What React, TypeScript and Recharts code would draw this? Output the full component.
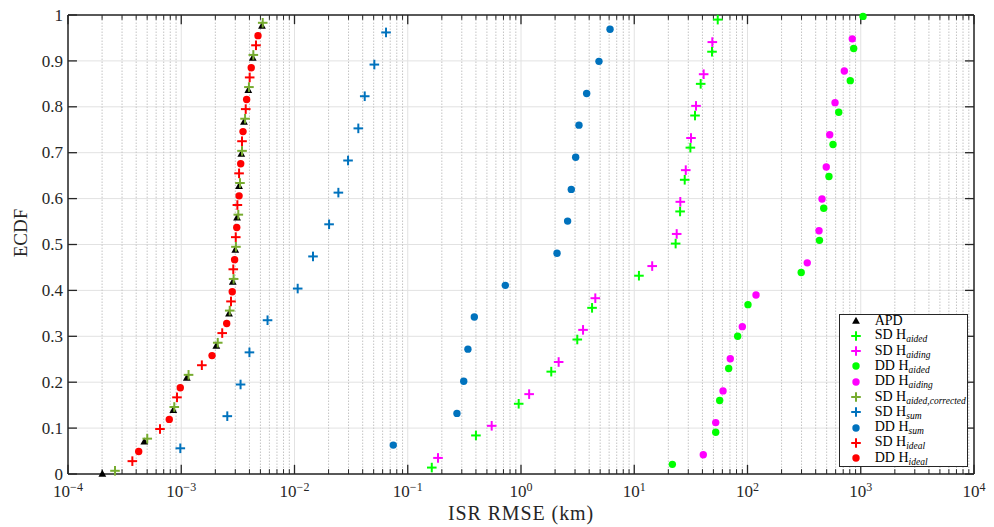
import React from 'react';
import { ScatterChart, Scatter, XAxis, YAxis, CartesianGrid, ReferenceLine, Legend } from 'recharts';

const FONT = '"Liberation Serif", "DejaVu Serif", serif';
const AXIS = '#262626';

// ---------- data (ISR RMSE in km, ECDF level) ----------
const apdX = [2.01e-4, 4.72e-4, 8.51e-4, 1.12e-3, 2.04e-3, 2.64e-3, 2.85e-3, 3.0e-3, 3.11e-3, 3.24e-3, 3.39e-3, 3.58e-3, 3.91e-3, 4.28e-3, 5.16e-3];
const apdY = [0, 0.07, 0.139, 0.209, 0.279, 0.349, 0.418, 0.488, 0.558, 0.627, 0.697, 0.767, 0.836, 0.906, 0.976];

const sdAidedX = [0.163, 0.4, 0.954, 1.85, 3.14, 4.24, 11.0, 23.2, 25.4, 27.9, 31.3, 34.4, 38.6, 48.6, 54.6];
const sdAidedY = [0.014, 0.084, 0.153, 0.223, 0.293, 0.362, 0.432, 0.502, 0.572, 0.641, 0.711, 0.781, 0.85, 0.92, 0.99];

const sdAidingX = [0.185, 0.551, 1.18, 2.15, 3.53, 4.53, 14.4, 23.7, 25.5, 28.5, 31.7, 35.1, 41.0, 48.9];
const sdAidingY = [0.035, 0.105, 0.174, 0.244, 0.314, 0.383, 0.453, 0.523, 0.593, 0.662, 0.732, 0.802, 0.871, 0.941];

const ddAidedX = [21.7, 52.4, 56.8, 68.2, 81.9, 101, 298, 432, 471, 524, 569, 639, 808, 866, 1047];
const ddAidedY = [0.021, 0.091, 0.16, 0.23, 0.3, 0.369, 0.439, 0.509, 0.579, 0.648, 0.718, 0.788, 0.857, 0.927, 0.997];

const ddAidingX = [40.7, 52.4, 60.8, 70.5, 90.0, 118.9, 337, 428, 455, 496, 532, 593, 716, 842];
const ddAidingY = [0.042, 0.112, 0.181, 0.251, 0.321, 0.39, 0.46, 0.53, 0.599, 0.669, 0.739, 0.809, 0.878, 0.948];

const sdAidedCorrX = [2.6e-4, 5.01e-4, 8.68e-4, 1.16e-3, 2.1e-3, 2.68e-3, 2.9e-3, 3.04e-3, 3.19e-3, 3.3e-3, 3.44e-3, 3.66e-3, 3.96e-3, 4.33e-3, 5.24e-3];
const sdAidedCorrY = [0.007, 0.077, 0.146, 0.216, 0.286, 0.356, 0.425, 0.495, 0.565, 0.634, 0.704, 0.774, 0.843, 0.913, 0.983];

const sdSumX = [9.81e-4, 2.55e-3, 3.34e-3, 4.0e-3, 5.78e-3, 1.067e-2, 1.457e-2, 2.02e-2, 2.44e-2, 2.97e-2, 3.66e-2, 4.17e-2, 5.07e-2, 6.43e-2];
const sdSumY = [0.056, 0.126, 0.195, 0.265, 0.335, 0.404, 0.474, 0.544, 0.613, 0.683, 0.753, 0.823, 0.892, 0.962];

const ddSumX = [7.45e-2, 0.272, 0.312, 0.34, 0.387, 0.727, 2.08, 2.58, 2.78, 3.04, 3.25, 3.8, 4.88, 6.11];
const ddSumY = [0.063, 0.132, 0.202, 0.272, 0.342, 0.411, 0.481, 0.551, 0.62, 0.69, 0.76, 0.829, 0.899, 0.969];

const sdIdealX = [3.7e-4, 6.49e-4, 9.17e-4, 1.52e-3, 2.3e-3, 2.75e-3, 2.88e-3, 3.03e-3, 3.13e-3, 3.24e-3, 3.44e-3, 3.71e-3, 4.02e-3, 4.57e-3];
const sdIdealY = [0.028, 0.098, 0.167, 0.237, 0.307, 0.376, 0.446, 0.516, 0.586, 0.655, 0.725, 0.795, 0.864, 0.934];

const ddIdealX = [4.21e-4, 7.84e-4, 9.81e-4, 1.87e-3, 2.52e-3, 2.82e-3, 2.96e-3, 3.09e-3, 3.24e-3, 3.35e-3, 3.51e-3, 3.78e-3, 4.15e-3, 4.76e-3];
const ddIdealY = [0.049, 0.119, 0.188, 0.258, 0.328, 0.397, 0.467, 0.537, 0.606, 0.676, 0.746, 0.816, 0.885, 0.955];

const xTicks = [1e-4, 1e-3, 1e-2, 1e-1, 1, 10, 100, 1000, 10000];
const xTickExp = ['\u22124', '\u22123', '\u22122', '\u22121', '0', '1', '2', '3', '4'];
const yTicks = [0, 0.1, 0.2, 0.3, 0.4, 0.5, 0.6, 0.7, 0.8, 0.9, 1];
const yTickLabels = ['0', '0.1', '0.2', '0.3', '0.4', '0.5', '0.6', '0.7', '0.8', '0.9', '1'];

// minor log ticks (2..9 x 10^e)
const minorTicks: number[] = [];
for (let e = -4; e < 4; e++) for (let m = 2; m <= 9; m++) minorTicks.push(m * Math.pow(10, e));

type Kind = 'tri' | 'plus' | 'dot';
const series: { label: string; sub?: string; xs: number[]; ys: number[]; color: string; kind: Kind }[] = [
  { label: 'APD', xs: apdX, ys: apdY, color: '#000000', kind: 'tri' },
  { label: 'SD H', sub: 'aided', xs: sdAidedX, ys: sdAidedY, color: '#00ff00', kind: 'plus' },
  { label: 'SD H', sub: 'aiding', xs: sdAidingX, ys: sdAidingY, color: '#ff00ff', kind: 'plus' },
  { label: 'DD H', sub: 'aided', xs: ddAidedX, ys: ddAidedY, color: '#00ff00', kind: 'dot' },
  { label: 'DD H', sub: 'aiding', xs: ddAidingX, ys: ddAidingY, color: '#ff00ff', kind: 'dot' },
  { label: 'SD H', sub: 'aided,corrected', xs: sdAidedCorrX, ys: sdAidedCorrY, color: '#77ac30', kind: 'plus' },
  { label: 'SD H', sub: 'sum', xs: sdSumX, ys: sdSumY, color: '#0072bd', kind: 'plus' },
  { label: 'DD H', sub: 'sum', xs: ddSumX, ys: ddSumY, color: '#0072bd', kind: 'dot' },
  { label: 'SD H', sub: 'ideal', xs: sdIdealX, ys: sdIdealY, color: '#ff0000', kind: 'plus' },
  { label: 'DD H', sub: 'ideal', xs: ddIdealX, ys: ddIdealY, color: '#ff0000', kind: 'dot' },
];

function marker(kind: Kind, cx: number, cy: number, color: string) {
  if (kind === 'plus') {
    return (
      <g>
        <line x1={cx - 4.8} y1={cy} x2={cx + 4.8} y2={cy} stroke={color} strokeWidth={2} />
        <line x1={cx} y1={cy - 4.8} x2={cx} y2={cy + 4.8} stroke={color} strokeWidth={2} />
      </g>
    );
  }
  if (kind === 'dot') return <circle cx={cx} cy={cy} r={3.7} fill={color} />;
  return <polygon points={`${cx},${cy - 4.3} ${cx - 3.9},${cy + 2.7} ${cx + 3.9},${cy + 2.7}`} fill={color} />;
}

const LegendBox = () => (
  <div
    style={{
      position: 'relative',
      boxSizing: 'border-box',
      width: 129,
      height: 153,
      border: `1.3px solid ${AXIS}`,
      background: '#fff',
      fontFamily: FONT,
      fontSize: 14,
      color: '#000',
    }}
  >
    {series.map((s, i) => (
      <div
        key={i}
        style={{ position: 'absolute', left: 0, top: -1.3 + 7 + i * 15.26 - 7.5, height: 15, display: 'flex', alignItems: 'center' }}
      >
        <svg width={14} height={14} style={{ marginLeft: 9.4, marginRight: 11.3, flex: 'none' }}>
          {marker(s.kind, 7, 7, s.color)}
        </svg>
        <span style={{ whiteSpace: 'nowrap', lineHeight: '15px' }}>
          {s.label}
          {s.sub && (
            <span style={{ fontStyle: 'italic', fontSize: 9.5, position: 'relative', top: 3 }}>{s.sub}</span>
          )}
        </span>
      </div>
    ))}
  </div>
);

const XTick = (props: any) => {
  const { x, y, payload } = props;
  const idx = xTicks.indexOf(payload.value);
  return (
    <text x={x} y={y + 23} textAnchor="middle" fontFamily={FONT} fontSize={17} fill={AXIS}>
      10
      <tspan dy={-6.5} fontSize={12}>{xTickExp[idx]}</tspan>
    </text>
  );
};

const YTick = (props: any) => {
  const { x, y, payload } = props;
  const idx = yTicks.indexOf(payload.value);
  return (
    <text x={x - 5} y={y} dy="0.33em" textAnchor="end" fontFamily={FONT} fontSize={17} fill={AXIS}>
      {yTickLabels[idx]}
    </text>
  );
};

export default function App() {
  const major = 0.02;
  const minor = 0.0105;
  const yTickFactor = 1.2;
  return (
    <div style={{ position: 'absolute', left: 0, top: 0, background: '#fff' }}>
      <ScatterChart width={994} height={527} margin={{ top: 15, right: 20, bottom: 1, left: 0 }}>
        <CartesianGrid stroke="#e2e2e2" strokeWidth={1} />
        {minorTicks.map((v) => (
          <ReferenceLine key={`mg${v}`} x={v} stroke="#c4c4c4" strokeWidth={1} strokeDasharray="1.5 1.5" />
        ))}
        <XAxis
          dataKey="x"
          type="number"
          scale="log"
          domain={[1e-4, 1e4]}
          ticks={xTicks}
          interval={0}
          height={52}
          tickLine={false}
          tickSize={0}
          tickMargin={0}
          axisLine={{ stroke: AXIS, strokeWidth: 1.5 }}
          tick={<XTick />}
          label={(p: any) => (
            <text
              x={p.viewBox.x + p.viewBox.width / 2}
              y={520}
              textAnchor="middle"
              fontFamily={FONT}
              fontSize={20}
              letterSpacing={0.9}
              fill={AXIS}
            >
              ISR RMSE (km)
            </text>
          )}
        />
        <YAxis
          dataKey="y"
          type="number"
          domain={[0, 1]}
          ticks={yTicks}
          interval={0}
          width={68}
          tickLine={false}
          tickSize={0}
          tickMargin={0}
          axisLine={{ stroke: AXIS, strokeWidth: 1.5 }}
          tick={<YTick />}
          label={() => (
            <text transform="translate(27,233) rotate(-90)" textAnchor="middle" fontFamily={FONT} fontSize={19} fill={AXIS}>
              ECDF
            </text>
          )}
        />
        <ReferenceLine y={1} stroke={AXIS} strokeWidth={1.5} />
        <ReferenceLine x={1e4} stroke={AXIS} strokeWidth={1.5} />
        {minorTicks.map((v) => (
          <ReferenceLine key={`mb${v}`} segment={[{ x: v, y: 0 }, { x: v, y: minor }]} stroke={AXIS} strokeWidth={1} />
        ))}
        {minorTicks.map((v) => (
          <ReferenceLine key={`mt${v}`} segment={[{ x: v, y: 1 }, { x: v, y: 1 - minor }]} stroke={AXIS} strokeWidth={1} />
        ))}
        {xTicks.map((v) => (
          <ReferenceLine key={`Mb${v}`} segment={[{ x: v, y: 0 }, { x: v, y: major }]} stroke={AXIS} strokeWidth={1.3} />
        ))}
        {xTicks.map((v) => (
          <ReferenceLine key={`Mt${v}`} segment={[{ x: v, y: 1 }, { x: v, y: 1 - major }]} stroke={AXIS} strokeWidth={1.3} />
        ))}
        {yTicks.map((v) => (
          <ReferenceLine key={`yl${v}`} segment={[{ x: 1e-4, y: v }, { x: 1e-4 * yTickFactor, y: v }]} stroke={AXIS} strokeWidth={1.3} />
        ))}
        {yTicks.map((v) => (
          <ReferenceLine key={`yr${v}`} segment={[{ x: 1e4, y: v }, { x: 1e4 / yTickFactor, y: v }]} stroke={AXIS} strokeWidth={1.3} />
        ))}
        {series.map((s, i) => (
          <Scatter
            key={i}
            name={s.sub ? `${s.label} ${s.sub}` : s.label}
            data={s.xs.map((x, j) => ({ x, y: s.ys[j] }))}
            fill={s.color}
            isAnimationActive={false}
            shape={(p: any) => marker(s.kind, p.cx, p.cy, s.color)}
          />
        ))}
        <Legend
          layout="vertical"
          align="center"
          verticalAlign="middle"
          wrapperStyle={{ left: 839, top: 314, width: 129, height: 153 }}
          content={() => <LegendBox />}
        />
      </ScatterChart>
    </div>
  );
}
